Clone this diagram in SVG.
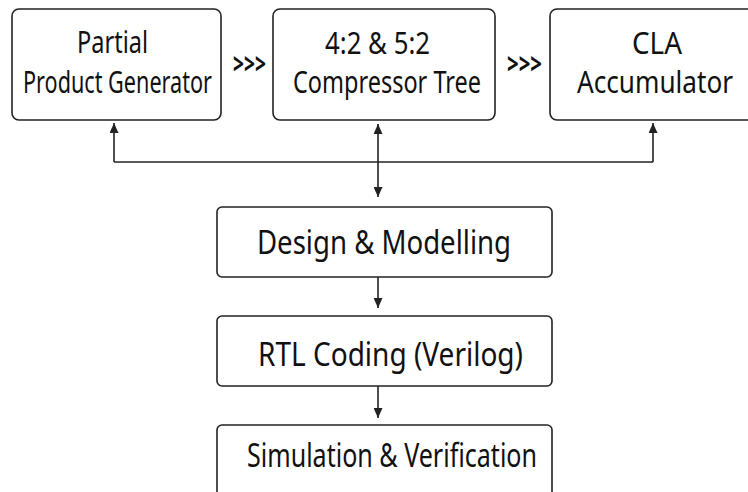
<svg xmlns="http://www.w3.org/2000/svg" width="748" height="492" viewBox="0 0 748 492">
<style>
.box{fill:#fff;stroke:#222;stroke-width:1.6}
.t{font-family:"Noto Sans","Open Sans",sans-serif;font-size:30px;fill:#111}
.tl{font-family:"Noto Sans","Open Sans",sans-serif;font-size:32px;fill:#111}
.chev{font-family:"Noto Sans","Open Sans",sans-serif;font-size:28px;font-weight:bold;fill:#111}
.c{fill:none;stroke:#222;stroke-width:1.6}
</style>
<defs>
<marker id="ah" markerUnits="userSpaceOnUse" markerWidth="10" markerHeight="9" refX="10" refY="4.5" orient="auto-start-reverse" viewBox="0 0 10 9">
<path d="M0,0 L10,4.5 L0,9 z" fill="#222"/>
</marker>
</defs>
<rect width="748" height="492" fill="#fff"/>
<g id="connectors">
<path class="c" d="M114,162 H653"/>
<path class="c" d="M114,162 V123" marker-end="url(#ah)"/>
<path class="c" d="M653,162 V123" marker-end="url(#ah)"/>
<path class="c" d="M378,124 V197" marker-start="url(#ah)" marker-end="url(#ah)"/>
<path class="c" d="M378,277 V308" marker-end="url(#ah)"/>
<path class="c" d="M378,386 V418" marker-end="url(#ah)"/>
<text class="chev" transform="translate(233,74) scale(0.7,1)" textLength="47" lengthAdjust="spacingAndGlyphs">&gt;&gt;&gt;</text>
<text class="chev" transform="translate(507,74) scale(0.7,1)" textLength="50" lengthAdjust="spacingAndGlyphs">&gt;&gt;&gt;</text>
</g>
<g id="ppg">
<rect class="box" x="12" y="9" width="209" height="111" rx="7"/>
<text class="t" transform="translate(77,53) scale(0.76,1)" textLength="93.4" lengthAdjust="spacingAndGlyphs">Partial</text>
<text class="t" transform="translate(23,93) scale(0.76,1)" textLength="248.7" lengthAdjust="spacingAndGlyphs">Product Generator</text>
</g>
<g id="ct">
<rect class="box" x="273" y="9" width="222" height="111" rx="7"/>
<text class="t" transform="translate(325,54) scale(0.76,1)" textLength="138.2" lengthAdjust="spacingAndGlyphs">4:2 &amp; 5:2</text>
<text class="t" transform="translate(293,93) scale(0.76,1)" textLength="247.4" lengthAdjust="spacingAndGlyphs">Compressor Tree</text>
</g>
<g id="cla">
<rect class="box" x="550" y="9" width="215" height="111" rx="7"/>
<text class="t" transform="translate(632,54) scale(0.76,1)" textLength="65.8" lengthAdjust="spacingAndGlyphs">CLA</text>
<text class="t" transform="translate(577,93) scale(0.76,1)" textLength="205.3" lengthAdjust="spacingAndGlyphs">Accumulator</text>
</g>
<g id="design">
<rect class="box" x="217" y="207" width="335" height="70" rx="5"/>
<text class="tl" transform="translate(257,254) scale(0.76,1)" textLength="334.2" lengthAdjust="spacingAndGlyphs">Design &amp; Modelling</text>
</g>
<g id="rtl">
<rect class="box" x="217" y="316" width="335" height="70" rx="5"/>
<text class="tl" transform="translate(258,366) scale(0.76,1)" textLength="348.7" lengthAdjust="spacingAndGlyphs">RTL Coding (Verilog)</text>
</g>
<g id="sim">
<rect class="box" x="217" y="425" width="335" height="80" rx="5"/>
<text class="tl" transform="translate(247,467) scale(0.76,1)" textLength="381.6" lengthAdjust="spacingAndGlyphs">Simulation &amp; Verification</text>
</g>
</svg>
